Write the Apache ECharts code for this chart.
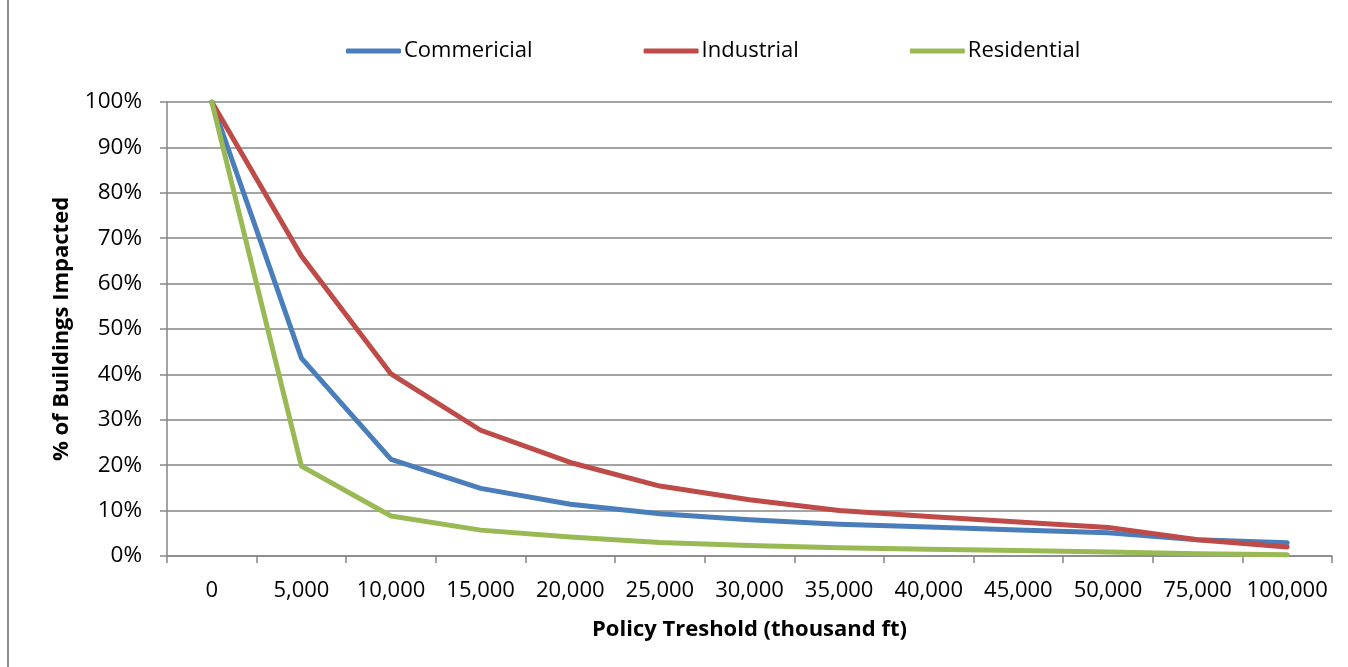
<!DOCTYPE html>
<html>
<head>
<meta charset="utf-8">
<title>Policy Threshold Impact</title>
<script src="https://cdn.jsdelivr.net/npm/echarts@6/dist/echarts.min.js"></script>
<style>
  html, body { margin: 0; padding: 0; background: #fff; }
  #chart { width: 1348px; height: 667px; }
</style>
</head>
<body>
<div id="chart"></div>
<script>
// Policy threshold categories (thousand ft)
const categories = ['0', '5,000', '10,000', '15,000', '20,000', '25,000', '30,000',
  '35,000', '40,000', '45,000', '50,000', '75,000', '100,000'];

// Share of buildings impacted, in percent
const commercial  = [100, 43.6, 21.3, 14.9, 11.4, 9.3, 8.0, 7.0, 6.4, 5.7, 5.1, 3.6, 2.9];
const industrial  = [100, 66.1, 40.1, 27.7, 20.6, 15.4, 12.4, 10.0, 8.7, 7.5, 6.3, 3.6, 2.0];
const residential = [100, 19.8, 8.8, 5.7, 4.2, 3.0, 2.3, 1.8, 1.5, 1.2, 0.9, 0.5, 0.3];

const yTicks = [0, 10, 20, 30, 40, 50, 60, 70, 80, 90, 100];

const seriesNames = ['Commericial', 'Industrial', 'Residential'];
const seriesData = [commercial, industrial, residential];
const colors = ['#4A7EBB', '#BE4B48', '#98B954'];

const font = '"Open Sans", "Noto Sans", sans-serif';
const gridColor = '#868686';

const chart = echarts.init(document.getElementById('chart'), null, { renderer: 'canvas' });

chart.setOption({
  animation: false,
  color: colors,
  textStyle: { fontFamily: font },
  graphic: [{
    type: 'line',
    shape: { x1: 8, y1: 0, x2: 8, y2: 667 },
    style: { stroke: '#8c8c8c', lineWidth: 2 }
  }],
  legend: {
    top: 35,
    left: 341,
    itemGap: 111,
    itemWidth: 55,
    itemHeight: 5,
    icon: 'roundRect',
    textStyle: { fontFamily: font, fontSize: 22, color: '#000', padding: [0, 0, 0, -2] },
    data: seriesNames
  },
  grid: { left: 167, right: 16, top: 102, bottom: 111, containLabel: false },
  xAxis: {
    type: 'category',
    data: categories,
    boundaryGap: true,
    name: 'Policy Treshold (thousand ft)',
    nameLocation: 'middle',
    nameGap: 63,
    nameTextStyle: { fontFamily: font, fontSize: 22, fontWeight: 'bold', color: '#000' },
    axisLine: { lineStyle: { color: gridColor, width: 1.5 } },
    axisTick: { show: true, alignWithLabel: false, length: 7, lineStyle: { color: gridColor, width: 1.5 } },
    axisLabel: { margin: 24, fontFamily: font, fontSize: 22, color: '#000', interval: 0 },
    splitLine: { show: false }
  },
  yAxis: {
    type: 'value',
    min: yTicks[0],
    max: yTicks[yTicks.length - 1],
    interval: 10,
    name: '% of Buildings Impacted',
    nameLocation: 'middle',
    nameGap: 94,
    nameRotate: 90,
    nameTextStyle: { fontFamily: font, fontSize: 22, fontWeight: 'bold', color: '#000' },
    axisLine: { show: true, lineStyle: { color: gridColor, width: 1.5 } },
    axisTick: { show: true, length: 7, lineStyle: { color: gridColor, width: 1.5 } },
    axisLabel: { margin: 25, fontFamily: font, fontSize: 22.5, color: '#000', formatter: v => v + '%' },
    splitLine: { show: true, lineStyle: { color: gridColor, width: 1.5 } }
  },
  series: seriesNames.map((name, i) => ({
    name: name,
    type: 'line',
    data: seriesData[i],
    symbol: 'none',
    smooth: false,
    lineStyle: { width: 5, color: colors[i], cap: 'round', join: 'round' },
    itemStyle: { color: colors[i] }
  }))
});
</script>
</body>
</html>
